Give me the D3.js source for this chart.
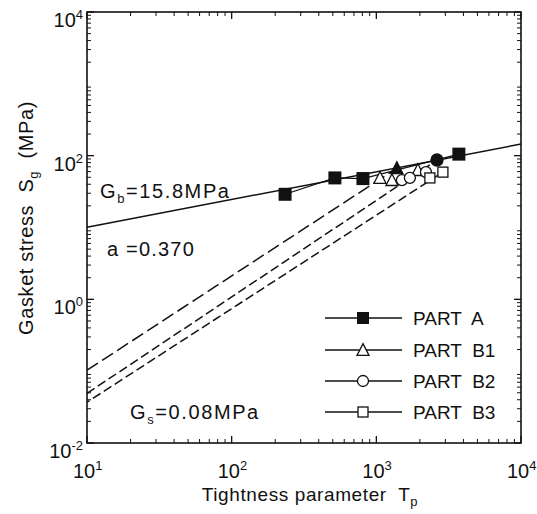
<!DOCTYPE html>
<html>
<head>
<meta charset="utf-8">
<script src="https://cdn.jsdelivr.net/npm/d3@7"></script>
<style>
  body { margin: 0; background: #fff; }
  svg text { font-family: "Liberation Sans", Arial, sans-serif; fill: #111; }
</style>
</head>
<body>
<div id="chart"></div>
<script>
// data
var partATp = [234, 517, 808, 3720];
var partASg = [29, 49, 48, 105];
var fitTp = [10, 10000];
var fitSg = [10.1, 145];

var b1Tp = [1060, 1282, 1936];
var b1Sg = [49, 45.7, 63];
var b2Tp = [1503, 1706, 2203];
var b2Sg = [45.7, 49, 59];
var b3Tp = [2345, 2885];
var b3Sg = [49, 59];

// loading lines (start, end)
var loadTp = [[10, 1387], [10, 2625], [10, 2885]];
var loadSg = [[0.103, 67], [0.049, 87], [0.037, 59]];
var loadDash = ["13,5", "9,4", "9,4"];
var loadOffset = [0, 0, 6];

// filled end markers of the B lines
var endTp = [1387, 2625];
var endSg = [67, 87];

var xTicks = [10, 100, 1000, 10000];
var xTickExp = ["1", "2", "3", "4"];
var yTicks = [0.01, 1, 100, 10000];
var yTickExp = ["-2", "0", "2", "4"];

var legendNames = ["PART  A", "PART  B1", "PART  B2", "PART  B3"];
var legendSymbols = ["fsquare", "triangle", "circle", "square"];

var width = 537, height = 514;
var pLeft = 87, pRight = 521, pTop = 12, pBottom = 443;

var x = d3.scaleLog().domain([10, 10000]).range([pLeft, pRight]);
var y = d3.scaleLog().domain([0.01, 10000]).range([pBottom, pTop]);

var svg = d3.select('#chart')
  .append('svg')
  .attr('width', width)
  .attr('height', height);

// minor + major ticks, all four sides, pointing in
function minorValues(domain) {
  var out = [];
  for (var e = Math.round(Math.log10(domain[0])); e < Math.round(Math.log10(domain[1])); e++) {
    for (var k = 2; k <= 9; k++) out.push(k * Math.pow(10, e));
  }
  return out;
}

var axes = svg.append('g').attr('stroke', '#111').attr('fill', 'none');
var xMinor = minorValues(x.domain());
var yMinor = minorValues(y.domain());

xMinor.forEach(function(v) {
  axes.append('line').attr('x1', x(v)).attr('x2', x(v)).attr('y1', pBottom).attr('y2', pBottom - 4).attr('stroke-width', 1);
  axes.append('line').attr('x1', x(v)).attr('x2', x(v)).attr('y1', pTop).attr('y2', pTop + 4).attr('stroke-width', 1);
});
xTicks.forEach(function(v) {
  axes.append('line').attr('x1', x(v)).attr('x2', x(v)).attr('y1', pBottom).attr('y2', pBottom - 7).attr('stroke-width', 1.3);
  axes.append('line').attr('x1', x(v)).attr('x2', x(v)).attr('y1', pTop).attr('y2', pTop + 7).attr('stroke-width', 1.3);
});
yMinor.forEach(function(v) {
  axes.append('line').attr('x1', pLeft).attr('x2', pLeft + 4).attr('y1', y(v)).attr('y2', y(v)).attr('stroke-width', 1);
  axes.append('line').attr('x1', pRight).attr('x2', pRight - 4).attr('y1', y(v)).attr('y2', y(v)).attr('stroke-width', 1);
});
yTicks.forEach(function(v) {
  axes.append('line').attr('x1', pLeft).attr('x2', pLeft + 7).attr('y1', y(v)).attr('y2', y(v)).attr('stroke-width', 1.3);
  axes.append('line').attr('x1', pRight).attr('x2', pRight - 7).attr('y1', y(v)).attr('y2', y(v)).attr('stroke-width', 1.3);
});

axes.append('rect')
  .attr('x', pLeft).attr('y', pTop)
  .attr('width', pRight - pLeft).attr('height', pBottom - pTop)
  .attr('stroke-width', 1.6);

// tick labels
var xl = svg.selectAll('.xl').data(xTicks).enter()
  .append('text')
  .attr('class', 'xl')
  .attr('x', function(d) { return x(d) - 14; })
  .attr('y', 478)
  .style('font-size', '20px');
xl.append('tspan').text('10');
xl.append('tspan').attr('dy', -8).style('font-size', '13px').text(function(d, i) { return xTickExp[i]; });

var yl = svg.selectAll('.yl').data(yTicks).enter()
  .append('text')
  .attr('class', 'yl')
  .attr('x', 83)
  .attr('text-anchor', 'end')
  .attr('y', function(d) { return y(d) + 15; })
  .style('font-size', '20px');
yl.append('tspan').text('10');
yl.append('tspan').attr('dy', -8).style('font-size', '13px').text(function(d, i) { return yTickExp[i]; });

// axis titles
var xt = svg.append('text')
  .attr('x', 310).attr('y', 501)
  .attr('text-anchor', 'middle')
  .style('font-size', '19px')
  .style('letter-spacing', '0.6px')
  .attr('xml:space', 'preserve');
xt.append('tspan').text('Tightness parameter  T');
xt.append('tspan').attr('dy', 5).style('font-size', '13px').text('p');

var yt = svg.append('text')
  .attr('transform', 'translate(33,218) rotate(-90)')
  .attr('text-anchor', 'middle')
  .style('font-size', '20px')
  .style('letter-spacing', '0.6px')
  .attr('xml:space', 'preserve');
yt.append('tspan').text('Gasket stress  S');
yt.append('tspan').attr('dy', 5).style('font-size', '13px').text('g');
yt.append('tspan').attr('dy', -5).text('  (MPa)');

// lines
var line = d3.line().x(function(d) { return x(d[0]); }).y(function(d) { return y(d[1]); });

svg.append('path')
  .datum(d3.zip(fitTp, fitSg))
  .attr('d', line)
  .attr('fill', 'none').attr('stroke', '#111').attr('stroke-width', 1.5);

svg.append('path')
  .datum(d3.zip(partATp, partASg))
  .attr('d', line)
  .attr('fill', 'none').attr('stroke', '#111').attr('stroke-width', 1.2);

loadTp.forEach(function(tp, i) {
  svg.append('path')
    .datum(d3.zip(tp, loadSg[i]))
    .attr('d', line)
    .attr('fill', 'none').attr('stroke', '#111').attr('stroke-width', 1.5)
    .attr('stroke-dasharray', loadDash[i])
    .attr('stroke-dashoffset', loadOffset[i]);
});

// markers
function marker(g, type, cx, cy, s) {
  if (type == 'fsquare') {
    g.append('rect').attr('x', cx - s / 2).attr('y', cy - s / 2).attr('width', s).attr('height', s).attr('fill', '#111');
  } else if (type == 'square') {
    g.append('rect').attr('x', cx - s / 2 + 1).attr('y', cy - s / 2 + 1).attr('width', s - 2).attr('height', s - 2)
      .attr('fill', '#fff').attr('stroke', '#111').attr('stroke-width', 1.3);
  } else if (type == 'circle' || type == 'fcircle') {
    g.append('circle').attr('cx', cx).attr('cy', cy).attr('r', s / 2 - 0.5)
      .attr('fill', type == 'fcircle' ? '#111' : '#fff').attr('stroke', '#111').attr('stroke-width', 1.3);
  } else {
    var h = s * 0.9;
    g.append('path')
      .attr('d', 'M' + cx + ',' + (cy - h / 2 - 1) + 'L' + (cx + s / 2) + ',' + (cy + h / 2) + 'L' + (cx - s / 2) + ',' + (cy + h / 2) + 'Z')
      .attr('fill', type == 'ftriangle' ? '#111' : '#fff').attr('stroke', '#111').attr('stroke-width', 1.3);
  }
}

var marks = svg.append('g');
partATp.forEach(function(v, i) { marker(marks, 'fsquare', x(v), y(partASg[i]), 13); });
b1Tp.forEach(function(v, i) { marker(marks, 'triangle', x(v), y(b1Sg[i]), 12); });
b2Tp.forEach(function(v, i) { marker(marks, 'circle', x(v), y(b2Sg[i]), 12); });
b3Tp.forEach(function(v, i) { marker(marks, 'square', x(v), y(b3Sg[i]), 12); });
marker(marks, 'ftriangle', x(endTp[0]), y(endSg[0]), 12);
marker(marks, 'fcircle', x(endTp[1]), y(endSg[1]), 13);

// annotations
function sublabel(px, py, main, sub, rest) {
  var t = svg.append('text').attr('x', px).attr('y', py)
    .style('font-size', '20px').style('letter-spacing', '1.6px');
  t.append('tspan').text(main);
  t.append('tspan').attr('dy', 5).style('font-size', '13px').text(sub);
  t.append('tspan').attr('dy', -5).text(rest);
}
sublabel(100, 198, 'G', 'b', '=15.8MPa');
sublabel(130, 419, 'G', 's', '=0.08MPa');
svg.append('text').attr('x', 107).attr('y', 256)
  .style('font-size', '20px').style('letter-spacing', '1.2px')
  .attr('xml:space', 'preserve').text('a =0.370');

// legend
var legendY = [318, 350, 381, 412];
var legend = svg.selectAll('.legend')
  .data(legendNames)
  .enter()
  .append('g')
  .attr('class', 'legend')
  .attr('transform', function(d, i) { return 'translate(0,' + legendY[i] + ')'; });

legend.append('line')
  .attr('x1', 325).attr('x2', 402).attr('y1', 0).attr('y2', 0)
  .attr('stroke', '#111').attr('stroke-width', 1.4);
legend.each(function(d, i) { marker(d3.select(this), legendSymbols[i], 363, 0, 12); });
legend.append('text')
  .attr('x', 413).attr('y', 7)
  .style('font-size', '19px')
  .attr('xml:space', 'preserve')
  .text(function(d) { return d; });
</script>
</body>
</html>
